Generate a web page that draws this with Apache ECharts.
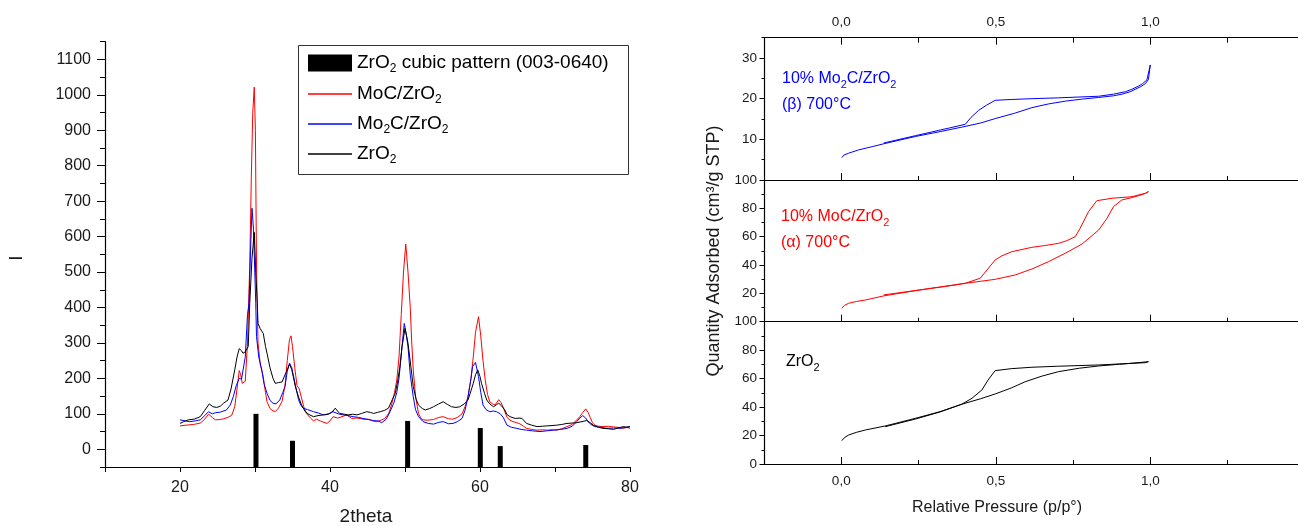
<!DOCTYPE html>
<html>
<head>
<meta charset="utf-8">
<script src="https://cdn.jsdelivr.net/npm/echarts@6/dist/echarts.min.js"></script>
<style>
html,body{margin:0;padding:0;background:#fff;}
#chart{width:1298px;height:526px;}
</style>
</head>
<body>
<div id="chart"></div>
<script>
// ---------- XRD data (left) ----------
const xrdMoC = [[20,66],[20.8,68],[21.8,70],[22.7,74],[23.3,85],[23.8,99],[24.3,90],[24.7,83],[25.3,84],[25.8,86],[26.4,90],[26.9,96],[27.3,120],[27.6,170],[27.9,222],[28.1,210],[28.3,186],[28.5,185],[28.7,192],[29.0,300],[29.3,520],[29.5,760],[29.7,950],[29.9,1022],[30.05,900],[30.2,520],[30.4,300],[30.7,240],[31.1,205],[31.4,160],[31.6,134],[32.0,115],[32.4,108],[32.7,107],[33.1,115],[33.6,135],[34.0,180],[34.3,250],[34.6,310],[34.8,320],[35.0,290],[35.3,230],[35.6,180],[35.9,170],[36.2,145],[36.5,120],[36.9,100],[37.4,88],[37.8,80],[38.2,85],[38.7,80],[39.2,76],[39.6,73],[40.0,80],[40.4,92],[41.0,88],[41.6,92],[42.2,97],[42.9,87],[43.5,88],[44.0,87],[44.6,84],[45.1,85],[45.7,80],[46.2,78],[46.8,82],[47.3,87],[47.8,100],[48.2,125],[48.6,160],[48.9,195],[49.2,260],[49.5,380],[49.8,500],[50.1,579],[50.4,500],[50.7,400],[50.9,300],[51.1,224],[51.4,150],[51.8,101],[52.1,88],[52.4,83],[53.0,82],[53.8,84],[54.5,90],[55.1,92],[55.8,86],[56.4,85],[57.0,90],[57.6,100],[58.0,120],[58.4,148],[58.8,200],[59.1,260],[59.4,330],[59.8,374],[60.1,320],[60.4,250],[60.7,195],[61.0,155],[61.3,134],[61.7,128],[62.0,125],[62.5,140],[62.8,132],[63.1,118],[63.6,90],[64.0,82],[64.4,78],[64.9,75],[65.3,72],[65.8,65],[66.2,59],[66.9,56],[67.6,54],[68.3,55],[68.9,54],[69.6,55],[70.2,54],[70.9,58],[71.6,64],[72.3,70],[72.9,83],[73.3,92],[73.6,101],[74.1,114],[74.4,104],[74.7,90],[75.0,75],[75.3,68],[75.8,65],[76.4,64],[77.1,65],[77.8,63],[78.4,62],[79.1,59],[79.6,62],[80,59]];
const xrdMo2C = [[20,83],[20.7,80],[21.3,78],[22.0,80],[22.7,83],[23.3,95],[23.8,106],[24.3,100],[24.7,103],[25.4,105],[26.2,111],[26.7,125],[27.1,148],[27.5,180],[27.9,200],[28.2,198],[28.4,200],[28.7,260],[29.0,380],[29.2,412],[29.4,560],[29.6,680],[29.8,620],[30.0,480],[30.1,412],[30.2,318],[30.5,260],[30.9,224],[31.2,185],[31.6,158],[32.0,138],[32.4,130],[32.8,128],[33.3,139],[33.7,160],[34.0,177],[34.3,220],[34.6,243],[34.9,230],[35.1,210],[35.4,180],[35.8,140],[36.1,125],[36.4,116],[37.0,112],[37.8,106],[38.5,102],[39.1,97],[39.8,100],[40.4,106],[41.1,100],[41.8,97],[42.4,95],[43.1,92],[43.8,90],[44.4,87],[45.1,84],[45.8,81],[46.4,80],[46.9,75],[47.5,85],[48.0,106],[48.5,130],[48.9,160],[49.2,200],[49.6,289],[49.9,355],[50.2,320],[50.4,289],[50.7,210],[51.1,148],[51.4,112],[51.8,92],[52.4,78],[53.1,73],[53.8,71],[54.5,76],[55.1,78],[55.8,72],[56.4,73],[57.0,78],[57.6,87],[58.0,110],[58.4,148],[58.8,200],[59.0,233],[59.4,245],[59.8,205],[60.1,160],[60.4,125],[60.8,112],[61.3,106],[61.8,108],[62.2,106],[62.7,100],[63.1,90],[63.6,68],[64.2,62],[64.9,59],[65.5,56],[66.2,54],[67.0,52],[68.0,50],[68.9,52],[69.8,54],[70.7,56],[71.6,59],[72.3,65],[72.9,78],[73.3,88],[73.7,95],[74.1,88],[74.4,78],[74.8,70],[75.3,64],[76.1,62],[76.9,59],[77.8,60],[78.7,59],[79.4,62],[80,64]];
const xrdZrO2 = [[20,73],[20.5,78],[21.1,83],[21.9,85],[22.7,92],[23.3,110],[23.9,128],[24.4,120],[24.9,118],[25.4,122],[25.8,130],[26.4,139],[26.8,170],[27.3,224],[27.6,260],[27.9,284],[28.2,278],[28.4,271],[28.7,275],[29.1,290],[29.3,412],[29.6,540],[29.9,612],[30.1,500],[30.3,412],[30.4,355],[30.7,340],[31.1,327],[31.4,290],[31.6,271],[32.0,230],[32.4,200],[32.7,186],[33.1,188],[33.6,190],[34.0,210],[34.2,219],[34.6,240],[34.9,225],[35.1,205],[35.4,175],[35.8,148],[36.2,125],[36.7,106],[37.2,98],[37.8,92],[38.4,95],[39.1,97],[39.6,98],[40.0,101],[40.4,108],[40.7,116],[41.0,108],[41.3,101],[41.9,99],[42.4,97],[43.0,99],[43.6,97],[44.2,101],[44.9,106],[45.4,104],[45.8,101],[46.3,104],[46.7,106],[47.3,110],[47.8,116],[48.3,140],[48.7,158],[49.0,190],[49.3,230],[49.6,289],[50.0,341],[50.4,299],[50.8,230],[51.1,177],[51.5,140],[51.8,125],[52.3,115],[52.7,111],[53.3,115],[53.8,120],[54.5,128],[55.1,134],[55.7,126],[56.2,120],[56.8,118],[57.3,120],[57.9,128],[58.4,139],[58.8,165],[59.1,186],[59.4,210],[59.7,224],[60.0,205],[60.2,186],[60.6,158],[60.9,139],[61.3,128],[61.8,120],[62.2,126],[62.5,130],[62.9,122],[63.3,111],[63.6,98],[64.0,92],[64.7,87],[65.2,88],[65.6,87],[66.2,73],[66.9,68],[67.6,64],[68.3,65],[68.9,66],[69.6,67],[70.2,68],[70.9,70],[71.6,73],[72.3,74],[72.9,75],[73.6,78],[74.2,81],[74.7,75],[75.1,68],[75.8,62],[76.4,59],[77.1,58],[77.8,56],[78.4,60],[79.1,64],[79.6,62],[80,64]];
// reference pattern bars (drawn up from the bottom of the axis at -50)
const barPos = [30.13, 35.0, 50.35, 60.04, 62.7, 74.1];
const barHeights = [100, 24, 80, 60, 9, 12];
const barBase = -50;
// tick labels
const leftXLabels = [20, 40, 60, 80];
const leftYLabels = [0, 100, 200, 300, 400, 500, 600, 700, 800, 900, 1000, 1100];

// ---------- Isotherm data (right) ----------
const isoMo2C = [[0.002,5.5],[0.008,6.1],[0.024,6.6],[0.056,7.4],[0.1,8.2],[0.137,8.9],[0.24,10.7],[0.32,11.9],[0.39,13.0],[0.45,14.0],[0.498,15.1],[0.56,16.4],[0.617,17.8],[0.67,18.7],[0.725,19.4],[0.78,19.9],[0.833,20.3],[0.88,20.7],[0.908,21.1],[0.935,21.7],[0.951,22.3],[0.97,23.0],[0.984,23.7],[0.994,24.7],[1.0,28.3],
  [0.989,24.6],[0.975,23.7],[0.962,23.1],[0.94,22.3],[0.919,21.7],[0.88,21.1],[0.833,20.6],[0.7,20.2],[0.617,20.0],[0.55,19.8],[0.498,19.6],[0.47,18.4],[0.444,17.1],[0.42,15.4],[0.401,13.7],[0.35,12.8],[0.315,12.2],[0.24,10.9],[0.137,9.1]];
const isoMoC = [[0.002,9.5],[0.01,11.5],[0.024,13],[0.05,14.3],[0.078,15.3],[0.137,18.2],[0.24,21.9],[0.32,24.5],[0.401,27.1],[0.45,28.5],[0.498,29.9],[0.563,33],[0.617,37.2],[0.671,42.4],[0.725,48.3],[0.779,54.8],[0.833,64.7],[0.86,73],[0.881,81.2],[0.908,85.9],[0.935,87.3],[0.962,88.9],[0.985,90.6],[0.994,91.8],[1.0,93],
  [0.984,90.6],[0.94,88.2],[0.876,87.1],[0.827,85.4],[0.8,77.6],[0.773,65.9],[0.757,60],[0.73,57.2],[0.703,55.3],[0.66,53.8],[0.617,52.5],[0.552,49.4],[0.52,46.5],[0.498,43.6],[0.45,30.7],[0.401,27.1],[0.35,25.3],[0.293,23.6],[0.2,20.8],[0.137,18.9]];
const isoZrO2 = [[0.002,16.4],[0.01,18.5],[0.024,20.4],[0.05,22.3],[0.078,23.9],[0.142,26.7],[0.24,32.1],[0.32,36.8],[0.39,42],[0.45,45.8],[0.498,49.2],[0.55,53.4],[0.595,57.8],[0.65,61.8],[0.703,64.9],[0.77,67.3],[0.833,68.9],[0.9,70.1],[0.94,70.8],[0.994,71.9],
  [0.984,71.2],[0.9,70.3],[0.833,69.6],[0.7,68.7],[0.617,68],[0.55,67],[0.498,65.6],[0.475,59],[0.455,52],[0.423,46.2],[0.39,42],[0.32,36.6],[0.24,31.6],[0.142,26.2]];
const rightXLabels = [0, 0.5, 1.0];
const rightXTicks = [-0.25, 0, 0.25, 0.5, 0.75, 1, 1.25];
const topYLabels = [10, 20, 30];
const midYLabels = [20, 40, 60, 80, 100];
const botYLabels = [0, 20, 40, 60, 80, 100];

// ---------- helpers ----------
const FONT = 'Liberation Sans';
const TXT = '#1a1a1a';
const lineAx = {show: true, onZero: false, lineStyle: {color: '#000', width: 1.2}};
const noLine = {show: false, onZero: false};
const RX_MIN = -0.25, RX_MAX = 1.478;

function valAxis(o) {
  return {
    type: 'value', gridIndex: o.grid, position: o.pos, min: o.min, max: o.max, interval: o.interval,
    show: o.hidden ? false : true,
    axisLine: o.line ? lineAx : noLine,
    splitLine: {show: false},
    axisTick: {show: !o.hidden, inside: !!o.inside, length: o.tickLen || 0,
      customValues: o.tickValues, lineStyle: {color: '#000', width: 1}},
    axisLabel: o.labels ? {show: true, customValues: o.labels, fontSize: o.fontSize, fontFamily: FONT,
      color: TXT, margin: o.margin, formatter: o.fmt || (v => String(v)), hideOverlap: false} : {show: false},
    z: 3
  };
}
const commaFmt = v => v.toFixed(1).replace('.', ',');

const xAxes = [
  // left chart
  valAxis({grid: 0, pos: 'bottom', min: 10, max: 80, interval: 10, line: true, tickLen: 5,
    labels: leftXLabels, fontSize: 16, margin: 13}),
  // right panels (bottom axes)
  valAxis({grid: 1, pos: 'bottom', min: RX_MIN, max: RX_MAX, interval: 0.25, line: true, inside: true, tickLen: 4, tickValues: rightXTicks}),
  valAxis({grid: 1, pos: 'bottom', min: RX_MIN, max: RX_MAX, interval: 0.25, line: false, inside: true, tickLen: 7, tickValues: rightXLabels}),
  valAxis({grid: 2, pos: 'bottom', min: RX_MIN, max: RX_MAX, interval: 0.25, line: true, inside: true, tickLen: 4, tickValues: rightXTicks}),
  valAxis({grid: 2, pos: 'bottom', min: RX_MIN, max: RX_MAX, interval: 0.25, line: false, inside: true, tickLen: 7, tickValues: rightXLabels}),
  valAxis({grid: 3, pos: 'bottom', min: RX_MIN, max: RX_MAX, interval: 0.25, line: true, inside: true, tickLen: 4, tickValues: rightXTicks,
    labels: rightXLabels, fontSize: 13.5, margin: 10, fmt: commaFmt}),
  valAxis({grid: 3, pos: 'bottom', min: RX_MIN, max: RX_MAX, interval: 0.25, line: false, inside: true, tickLen: 7, tickValues: rightXLabels}),
  // top axis of top panel
  valAxis({grid: 1, pos: 'top', min: RX_MIN, max: RX_MAX, interval: 0.25, line: true, inside: true, tickLen: 5, tickValues: rightXTicks,
    labels: rightXLabels, fontSize: 13.5, margin: 8, fmt: commaFmt}),
  valAxis({grid: 1, pos: 'top', min: RX_MIN, max: RX_MAX, interval: 0.25, line: false, inside: true, tickLen: 7, tickValues: rightXLabels})
];
const yAxes = [
  valAxis({grid: 0, pos: 'left', min: -50, max: 1150, interval: 50, line: true, tickLen: 5,
    labels: leftYLabels, fontSize: 16, margin: 14}),
  valAxis({grid: 0, pos: 'left', min: -50, max: 1150, interval: 50, line: false, tickLen: 8, tickValues: leftYLabels}),
  valAxis({grid: 1, pos: 'left', min: 0, max: 35, interval: 5, line: true, tickLen: 2.5,
    labels: topYLabels, fontSize: 13.5, margin: 7}),
  valAxis({grid: 1, pos: 'left', min: 0, max: 35, interval: 5, line: false, tickLen: 4.5, tickValues: topYLabels}),
  valAxis({grid: 2, pos: 'left', min: 0, max: 100, interval: 10, line: true, tickLen: 2.5,
    labels: midYLabels, fontSize: 13.5, margin: 7}),
  valAxis({grid: 2, pos: 'left', min: 0, max: 100, interval: 10, line: false, tickLen: 4.5, tickValues: midYLabels}),
  valAxis({grid: 3, pos: 'left', min: 0, max: 100, interval: 10, line: true, tickLen: 2.5,
    labels: botYLabels, fontSize: 13.5, margin: 7}),
  valAxis({grid: 3, pos: 'left', min: 0, max: 100, interval: 10, line: false, tickLen: 4.5, tickValues: botYLabels}),
  // hidden axis for the reference bars: same pixel span as yAxis 0, but measured from its bottom (-50)
  valAxis({grid: 0, pos: 'left', min: 0, max: 1150 - barBase, interval: 50, hidden: true})
];

const barName = 'ZrO2 cubic pattern (003-0640)';
const legendRich = {
  sub: {fontSize: 12, fontFamily: FONT, color: '#000', padding: [12, 0, 0, 0]},
  n: {fontSize: 19, fontFamily: FONT, color: '#000'}
};
const legendLabels = {
  'ZrO2 cubic pattern (003-0640)': '{n|ZrO}{sub|2}{n| cubic pattern (003-0640)}',
  'MoC/ZrO2': '{n|MoC/ZrO}{sub|2}',
  'Mo2C/ZrO2': '{n|Mo}{sub|2}{n|C/ZrO}{sub|2}',
  'ZrO2': '{n|ZrO}{sub|2}'
};
const legendBase = {
  orient: 'vertical', left: 308, padding: 0, icon: 'rect', itemWidth: 44,
  selectedMode: false, formatter: n => legendLabels[n],
  textStyle: {fontSize: 19, fontFamily: FONT, color: '#000', rich: legendRich}
};

function rtext(x, y, text, color, size, rich) {
  return {
    type: 'text', x: x, y: y, z: 10,
    style: {text: text, fill: color, fontSize: size, fontFamily: FONT,
      align: 'left', verticalAlign: 'alphabetic', textAlign: 'left', textVerticalAlign: 'alphabetic',
      rich: rich || {}}
  };
}
function annRich(color) {
  return {
    n: {fontSize: 16, fontFamily: FONT, fill: color, color: color},
    s: {fontSize: 11, fontFamily: FONT, fill: color, color: color, padding: [11, 0, 0, 0]}
  };
}
function ctext(x, y, text, size, rot) {
  return {type: 'text', x: x, y: y, rotation: rot || 0, z: 10,
    style: {text: text, fill: TXT, fontSize: size, fontFamily: FONT,
      align: 'center', verticalAlign: 'middle', textAlign: 'center', textVerticalAlign: 'middle'}};
}

const option = {
  animation: false,
  backgroundColor: '#fff',
  grid: [
    {left: 105, top: 41.7, width: 525, height: 425.3},
    {left: 764, top: 37.7, width: 534, height: 142.3},
    {left: 764, top: 180, width: 534, height: 141.7},
    {left: 764, top: 321.7, width: 534, height: 142.3}
  ],
  xAxis: xAxes,
  yAxis: yAxes,
  legend: [
    Object.assign({}, legendBase, {data: [barName], top: 53.5, itemHeight: 17}),
    Object.assign({}, legendBase, {data: ['MoC/ZrO2', 'Mo2C/ZrO2', 'ZrO2'], top: 84.5, itemHeight: 1.3, itemGap: 8.5})
  ],
  series: [
    {name: barName, type: 'bar', xAxisIndex: 0, yAxisIndex: 8, barWidth: 5,
      color: '#000', itemStyle: {color: '#000'},
      data: barPos.map((x, i) => [x, barHeights[i] - barBase])},
    {name: 'MoC/ZrO2', type: 'line', xAxisIndex: 0, yAxisIndex: 0, data: xrdMoC, showSymbol: false, symbol: 'none',
      color: '#ff0000', lineStyle: {color: '#ff0000', width: 1}},
    {name: 'Mo2C/ZrO2', type: 'line', xAxisIndex: 0, yAxisIndex: 0, data: xrdMo2C, showSymbol: false, symbol: 'none',
      color: '#0000ff', lineStyle: {color: '#0000ff', width: 1}},
    {name: 'ZrO2', type: 'line', xAxisIndex: 0, yAxisIndex: 0, data: xrdZrO2, showSymbol: false, symbol: 'none',
      color: '#000000', lineStyle: {color: '#000000', width: 1}},
    {name: 'iso Mo2C', type: 'line', xAxisIndex: 1, yAxisIndex: 2, data: isoMo2C, showSymbol: false, symbol: 'none',
      color: '#0000ff', lineStyle: {color: '#0000ff', width: 1}},
    {name: 'iso MoC', type: 'line', xAxisIndex: 3, yAxisIndex: 4, data: isoMoC, showSymbol: false, symbol: 'none',
      color: '#ff0000', lineStyle: {color: '#ff0000', width: 1}},
    {name: 'iso ZrO2', type: 'line', xAxisIndex: 5, yAxisIndex: 6, data: isoZrO2, showSymbol: false, symbol: 'none',
      color: '#000000', lineStyle: {color: '#000000', width: 1}}
  ],
  graphic: [
    {type: 'rect', left: 298, top: 45, z: 5, shape: {width: 330, height: 129},
      style: {fill: 'transparent', stroke: '#333', lineWidth: 1}},
    ctext(17, 258, 'I', 19, Math.PI / 2),
    ctext(366, 517, '2theta', 19),
    ctext(997, 508, 'Relative Pressure (p/p°)', 16),
    ctext(714, 251, 'Quantity Adsorbed (cm³/g STP)', 18, Math.PI / 2),
    rtext(782, 68, '{n|10% Mo}{s|2}{n|C/ZrO}{s|2}', '#0000ff', 16, annRich('#0000ff')),
    rtext(782, 97, '(β) 700°C', '#0000ff', 16),
    rtext(781, 206, '{n|10% MoC/ZrO}{s|2}', '#ff0000', 16, annRich('#ff0000')),
    rtext(781, 235, '(α) 700°C', '#ff0000', 16),
    rtext(786, 351, '{n|ZrO}{s|2}', '#000000', 16, annRich('#000000'))
  ]
};

const chart = echarts.init(document.getElementById('chart'), null, {renderer: 'canvas'});
chart.setOption(option);
</script>
</body>
</html>
